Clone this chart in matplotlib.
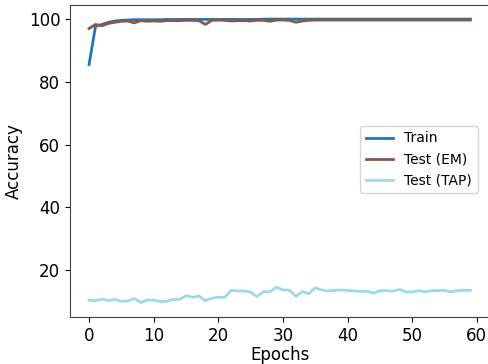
import matplotlib
matplotlib.use("Agg")
from matplotlib import pyplot as plt

epochs = list(range(60))

train = [85.5, 97.7, 98.3, 99.0, 99.4, 99.6, 99.7, 99.8, 99.8, 99.8,
         99.8, 99.8, 99.9, 99.9, 99.9, 99.9, 99.9, 99.9, 99.9, 99.9,
         99.9, 99.9, 99.9, 99.9, 99.9, 99.9, 99.9, 100.0, 100.0, 100.0,
         100.0, 100.0, 100.0, 100.0, 100.0, 100.0, 100.0, 100.0, 100.0, 100.0,
         100.0, 100.0, 100.0, 100.0, 100.0, 100.0, 100.0, 100.0, 100.0, 100.0,
         100.0, 100.0, 100.0, 100.0, 100.0, 100.0, 100.0, 100.0, 100.0, 100.0]

test_em = [97.0, 98.3, 97.9, 98.6, 99.0, 99.3, 99.4, 98.8, 99.5, 99.3,
           99.4, 99.3, 99.5, 99.5, 99.5, 99.6, 99.6, 99.5, 98.3, 99.6,
           99.7, 99.6, 99.4, 99.5, 99.5, 99.4, 99.6, 99.6, 99.3, 99.7,
           99.7, 99.6, 99.0, 99.4, 99.6, 99.7, 99.7, 99.7, 99.7, 99.7,
           99.7, 99.7, 99.7, 99.7, 99.7, 99.7, 99.7, 99.7, 99.7, 99.7,
           99.7, 99.7, 99.7, 99.7, 99.7, 99.7, 99.7, 99.7, 99.7, 99.7]

test_tap = [10.4, 10.2, 10.7, 10.2, 10.6, 10.0, 10.1, 10.9, 9.6, 10.4,
            10.4, 9.9, 10.0, 10.6, 10.6, 11.8, 11.3, 11.7, 10.2, 11.0,
            11.3, 11.3, 13.5, 13.3, 13.3, 12.9, 11.5, 13.1, 13.1, 14.5,
            13.6, 13.6, 11.6, 13.1, 12.4, 14.3, 13.6, 13.3, 13.5, 13.6,
            13.5, 13.3, 13.2, 13.2, 12.6, 13.4, 13.4, 13.2, 13.8, 13.0,
            13.0, 13.4, 13.0, 13.4, 13.4, 13.5, 13.0, 13.4, 13.5, 13.5]

plt.rcParams["font.size"] = 12
fig = plt.figure(figsize=(4.88, 3.64), dpi=100)
ax = fig.add_axes([70 / 488, 47 / 364, 421 / 488, 312 / 364])

LW = 2
ax.plot(epochs, train, label="Train", color="#1f77b4", linewidth=LW)
ax.plot(epochs, test_em, label="Test (EM)", color="#8c564b", linewidth=LW)
ax.plot(epochs, test_tap, label="Test (TAP)", color="#9edae5", linewidth=LW)

ax.set_xlim(-2.95, 62.2)
ax.set_ylim(5.0, 104.5)
ax.set_xticks([0, 10, 20, 30, 40, 50, 60])
ax.set_yticks([20, 40, 60, 80, 100])
ax.set_xlabel("Epochs", labelpad=1)
ax.set_ylabel("Accuracy")
for s in ax.spines.values():
    s.set_color("#444444")
ax.legend(loc="center right", bbox_to_anchor=(0.985, 0.505), fontsize=10)

fig.savefig("out.png", dpi=100)
